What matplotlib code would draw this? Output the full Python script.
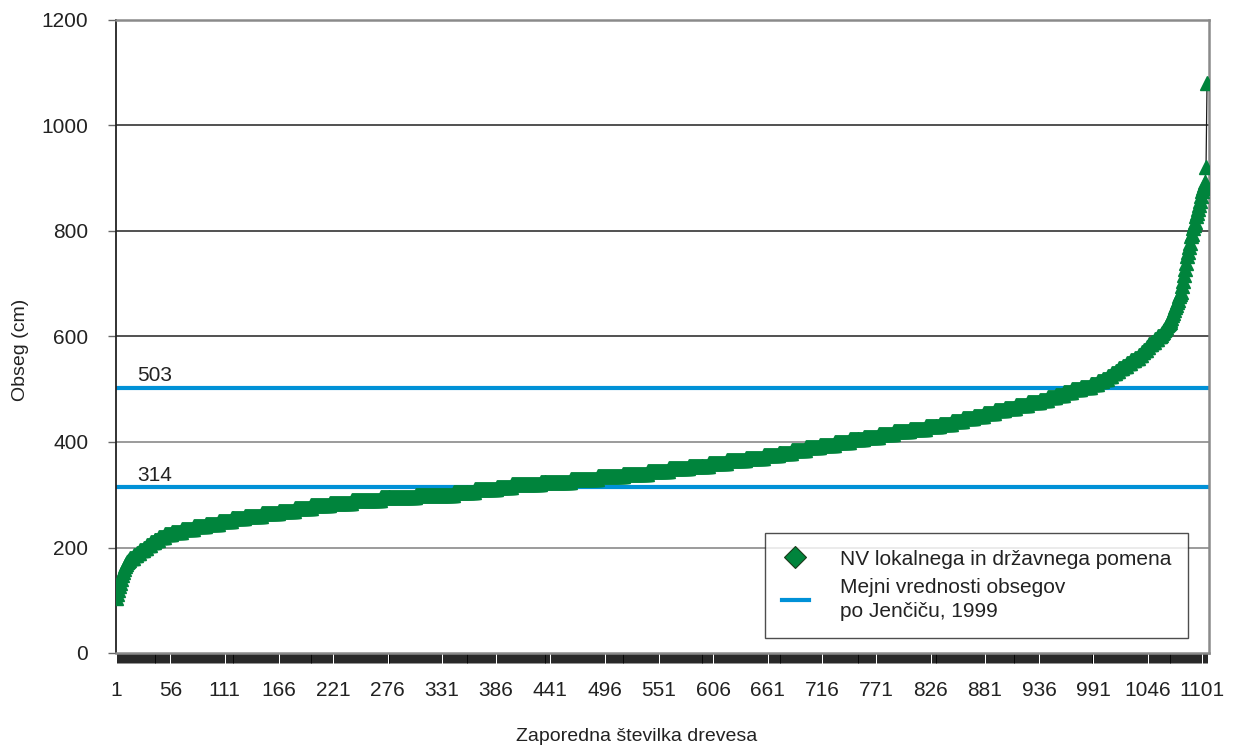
import numpy as np
import matplotlib

matplotlib.use("Agg")
import matplotlib.pyplot as plt
from matplotlib.lines import Line2D

plt.rcParams["font.family"] = ["Liberation Sans", "DejaVu Sans"]

# smallest trees, read one by one (cm)
first_trees = [105, 112, 120, 127, 133, 140, 147, 154, 160, 165, 169, 172, 174, 176]

# bulk of the trees: circumference class (cm) and number of trees in it
class_cm = [180, 185, 190, 195, 200, 205, 210, 215, 220, 225, 230, 235, 240, 245,
            250, 255, 260, 265, 270, 275, 280, 285, 290, 295, 300, 305, 310, 315,
            320, 325, 330, 335, 340, 345, 350, 355, 360, 365, 370, 375, 380, 385,
            390, 395, 400, 405, 410, 415, 420, 425, 430, 435, 440, 445, 450, 455,
            460, 465, 470, 475, 480, 485, 490, 495, 500, 505, 510, 515, 520, 525,
            530, 535, 540, 545, 550, 555, 560, 565, 570, 575, 580, 585, 590, 595, 600]
class_n = [4, 3, 3, 4, 3, 4, 4, 5, 6, 7, 10, 12, 12, 13,
           13, 14, 17, 17, 16, 17, 19, 22, 29, 36, 38, 22, 22, 15,
           29, 31, 27, 26, 25, 21, 20, 21, 18, 19, 18, 15, 14, 14,
           14, 15, 15, 15, 15, 15, 16, 16, 15, 12, 11, 11, 10, 11,
           10, 12, 12, 12, 8, 8, 8, 8, 9, 10, 8, 5, 5, 4,
           4, 3, 4, 4, 4, 4, 4, 3, 2, 3, 2, 3, 3, 3, 3]

# largest trees, read one by one (cm)
last_trees = [603, 606, 609, 612, 615, 618, 621, 623, 625, 628, 632, 636, 640, 645,
              650, 655, 660, 666, 670, 676, 680, 685, 695, 705, 716, 728, 740, 752,
              760, 770, 778, 790, 795, 805, 812, 818, 828, 835, 842, 850, 856, 866,
              875, 882, 888, 893, 922, 1080]

limits = [314, 503]

obseg = np.concatenate([first_trees, np.repeat(class_cm, class_n), last_trees])
n = len(obseg)
idx = np.arange(1, n + 1)

green = "#00843c"
blue = "#0091d7"
ink = "#222222"

fig = plt.figure(figsize=(12.33, 7.47), dpi=100)
ax = fig.add_axes([116 / 1233, 1 - 653 / 747, 1093 / 1233, 633 / 747])

for yv, col in [(200, "#8a8a8a"), (400, "#8a8a8a"), (600, "#333333"), (800, "#333333"), (1000, "#333333")]:
    ax.axhline(yv, color=col, lw=1.2, zorder=1)

for lim in limits:
    ax.axhline(lim, color=blue, lw=3, zorder=2)
    ax.text(0.019, lim + 5, str(lim), transform=ax.get_yaxis_transform(),
            fontsize=15, va="bottom", ha="left", color=ink)

ax.plot(idx, obseg, color="#1a1a1a", lw=0.9, zorder=3)
ax.plot(idx, obseg, ls="none", marker="^", ms=10.5, color=green, mec=green, zorder=4)

ax.set_xlim(1, n + 2)
ax.set_ylim(0, 1200)
ax.set_yticks(range(0, 1201, 200))
ax.set_xticks(range(1, n + 1, 55))
ax.set_xticks(idx, minor=True)

ax.tick_params(axis="y", direction="out", length=6, width=1, color="#666666",
               pad=14, labelsize=15, labelcolor=ink)
ax.tick_params(axis="x", which="major", length=0, pad=20, labelsize=15, labelcolor=ink)
ax.tick_params(axis="x", which="minor", direction="out", length=7, width=0.6, color="#000000")

ax.spines["left"].set_color(ink)
ax.spines["left"].set_linewidth(1.3)
for side in ["right", "top", "bottom"]:
    ax.spines[side].set_color("#8a8a8a")
    ax.spines[side].set_linewidth(1.8)

ax.set_ylabel("Obseg (cm)", fontsize=14, color=ink)
ax.yaxis.set_label_coords(-0.08, 0.479)
ax.set_xlabel("Zaporedna številka drevesa", fontsize=14, color=ink)
ax.xaxis.set_label_coords(0.476, -0.118)

handles = [
    Line2D([], [], ls="none", marker="D", ms=11, color=green, mec="#1a3a1a", mew=0.8),
    Line2D([], [], color=blue, lw=3),
]
leg = fig.legend(handles, ["NV lokalnega in državnega pomena", "Mejni vrednosti obsegov\npo Jenčiču, 1999"],
                 loc="upper left", bbox_to_anchor=(765 / 1233, 1 - 533 / 747),
                 fontsize=15, frameon=True, fancybox=False, handlelength=1.3,
                 borderpad=0.8, labelspacing=0.45, handletextpad=1.5, borderaxespad=0)
leg.get_frame().set_edgecolor(ink)
leg.get_frame().set_linewidth(1)
for t in leg.get_texts():
    t.set_color(ink)
    t.set_linespacing(1.35)

fig.savefig("out.png", dpi=100)
plt.close(fig)
